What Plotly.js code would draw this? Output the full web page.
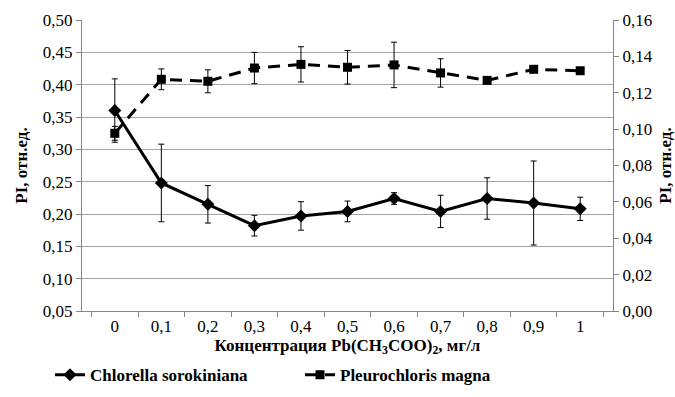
<!DOCTYPE html>
<html>
<head>
<meta charset="utf-8">
<script src="https://cdn.plot.ly/plotly-3.0.1.min.js"></script>
<style>html,body{margin:0;padding:0;background:#fff}#chart{width:675px;height:397px}</style>
</head>
<body>
<div id="chart"></div>
<script>
const categories = ["0","0,1","0,2","0,3","0,4","0,5","0,6","0,7","0,8","0,9","1"];
const chlorellaValues = [0.360, 0.248, 0.215, 0.182, 0.197, 0.204, 0.224, 0.204, 0.224, 0.217, 0.208];
const chlorellaErrors = [0.049, 0.060, 0.029, 0.016, 0.022, 0.016, 0.009, 0.025, 0.032, 0.065, 0.018];
const pleuroValues = [0.0977, 0.1274, 0.1263, 0.1336, 0.1356, 0.1340, 0.1353, 0.1309, 0.1268, 0.1329, 0.1321];
const pleuroErrors = [0.0038, 0.0057, 0.0063, 0.0086, 0.0097, 0.0092, 0.0125, 0.0078, 0, 0, 0];
const leftTicks = [0.05,0.10,0.15,0.20,0.25,0.30,0.35,0.40,0.45,0.50];
const rightTicks = [0,0.02,0.04,0.06,0.08,0.10,0.12,0.14,0.16];

const serif = "Liberation Serif";

const traces = [
  {
    x: categories, y: chlorellaValues, name: "Chlorella sorokiniana",
    type: "scatter", mode: "lines+markers", yaxis: "y",
    line: {color: "#000", width: 3},
    marker: {symbol: "diamond", size: 10, color: "#000"},
    error_y: {type: "data", array: chlorellaErrors, visible: true, color: "#000", thickness: 1, width: 3}
  },
  {
    x: categories, y: pleuroValues, name: "Pleurochloris magna",
    type: "scatter", mode: "lines+markers", yaxis: "y2",
    line: {color: "#000", width: 3, dash: "12px,8px"},
    marker: {symbol: "square", size: 9, color: "#000"},
    error_y: {type: "data", array: pleuroErrors, visible: true, color: "#000", thickness: 1, width: 3}
  }
];

const layout = {
  width: 675, height: 397,
  margin: {l: 82, r: 62, t: 20, b: 86, autoexpand: false},
  paper_bgcolor: "#fff", plot_bgcolor: "#fff",
  separators: ", ",
  showlegend: true,
  font: {family: serif, color: "#000", size: 17},
  xaxis: {
    type: "category",
    tickson: "boundaries",
    ticks: "outside", ticklen: 5, tickcolor: "#868686",
    showline: true, linecolor: "#868686", linewidth: 1,
    showgrid: false, zeroline: false, automargin: false,
    tickfont: {family: serif, size: 17},
    title: {text: "<b>Концентрация Pb(CH<sub>3</sub>COO)<sub>2</sub>, мг/л</b>", font: {family: serif, size: 17}, standoff: 14}
  },
  yaxis: {
    range: [0.05, 0.50],
    tickvals: leftTicks, tickformat: ".2f",
    ticks: "outside", ticklen: 5, tickcolor: "#868686",
    showline: true, linecolor: "#868686", linewidth: 1,
    showgrid: true, gridcolor: "#a6a6a6", gridwidth: 1,
    zeroline: false, automargin: false,
    tickfont: {family: serif, size: 17},
    title: {text: "<b>PI, отн.ед.</b>", font: {family: serif, size: 17}, standoff: 10}
  },
  yaxis2: {
    overlaying: "y", side: "right",
    range: [0, 0.16],
    tickvals: rightTicks, tickformat: ".2f",
    ticks: "outside", ticklen: 5, tickcolor: "#868686",
    showline: true, linecolor: "#868686", linewidth: 1,
    showgrid: false, zeroline: false, automargin: false,
    tickfont: {family: serif, size: 17},
    title: {text: "<b>PI, отн.ед.</b>", font: {family: serif, size: 17}, standoff: 10}
  },
  legend: {
    orientation: "h", x: 50 / 675, xanchor: "left", xref: "container",
    y: 0.055, yanchor: "middle", yref: "container",
    font: {family: serif, size: 17, weight: "bold"},
    itemwidth: 30, tracegroupgap: 0,
    entrywidth: 205, entrywidthmode: "pixels"
  }
};

Plotly.newPlot("chart", traces, layout, {displayModeBar: false, staticPlot: true});
</script>
</body>
</html>
